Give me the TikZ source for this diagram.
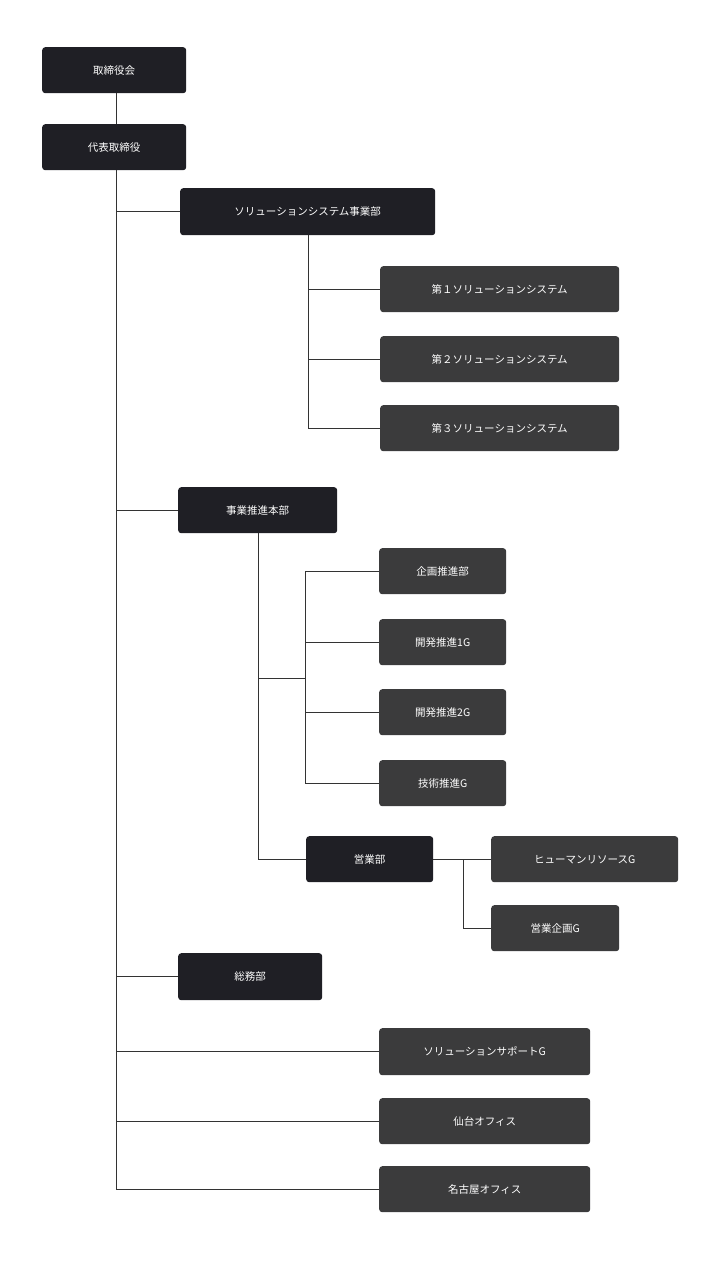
\documentclass[tikz,border=0pt]{standalone}
\usepackage{fontspec}
\setmainfont{Noto Sans CJK JP}
\begin{document}
\begin{tikzpicture}[x=1pt,y=-1pt,
 box/.style={draw=none,rounded corners=3pt,text=white,font=\fontsize{10.5}{12}\selectfont,inner sep=0pt,anchor=north west},
 dk/.style={box,fill=black!2!blue!3!black!88!white},
 lt/.style={box,fill=black!70!blue!8!white!25!black},
 ln/.style={draw=black!80,line width=0.8pt}]
\useasboundingbox (0,0) rectangle (720,1280);
\def\bx#1#2#3#4#5#6#7{\node[#1,minimum width=#4-#2,minimum height=#5-#3] (#6) at (#2,#3) {#7};}
\bx{dk}{42}{47}{186}{93}{a}{取締役会}
\bx{dk}{42}{124}{186}{170}{b}{代表取締役}
\bx{dk}{180}{188}{435}{235}{c}{ソリューションシステム事業部}
\bx{lt}{380}{266}{619}{312}{c1}{第１ソリューションシステム}
\bx{lt}{380}{336}{619}{382}{c2}{第２ソリューションシステム}
\bx{lt}{380}{405}{619}{451}{c3}{第３ソリューションシステム}
\bx{dk}{178}{487}{337}{533}{d}{事業推進本部}
\bx{lt}{379}{548}{506}{594}{d1}{企画推進部}
\bx{lt}{379}{619}{506}{665}{d2}{開発推進1G}
\bx{lt}{379}{689}{506}{735}{d3}{開発推進2G}
\bx{lt}{379}{760}{506}{806}{d4}{技術推進G}
\bx{dk}{306}{836}{433}{882}{e}{営業部}
\bx{lt}{491}{836}{678}{882}{e1}{ヒューマンリソースG}
\bx{lt}{491}{905}{619}{951}{e2}{営業企画G}
\bx{dk}{178}{953}{322}{1000}{f}{総務部}
\bx{lt}{379}{1028}{590}{1075}{g1}{ソリューションサポートG}
\bx{lt}{379}{1098}{590}{1144}{g2}{仙台オフィス}
\bx{lt}{379}{1166}{590}{1212}{g3}{名古屋オフィス}
\coordinate (t) at (116,1189);
\draw[ln] (a.south -| 116,0) -- (b.north -| 116,0);
\draw[ln] (b.south -| 116,0) -- (t) -- (g3.west |- t);
\foreach \n in {c,d,f,g1,g2} \draw[ln] (116,0 |- \n.west) -- (\n.west);
\coordinate (cs) at (308,235);
\draw[ln] (cs) -- (308,0 |- c3.west) -- (c3.west);
\foreach \n in {c1,c2} \draw[ln] (308,0 |- \n.west) -- (\n.west);
\coordinate (ds) at (258,533);
\draw[ln] (ds) -- (258,0 |- e.west) -- (e.west);
\coordinate (dm) at (258,678);
\draw[ln] (dm) -- (305,678);
\draw[ln] (305,0 |- d1.west) -- (305,0 |- d4.west);
\foreach \n in {d1,d2,d3,d4} \draw[ln] (305,0 |- \n.west) -- (\n.west);
\draw[ln] (e.east) -- (e1.west);
\draw[ln] (463,859) -- (463,0 |- e2.west) -- (e2.west);
\end{tikzpicture}
\end{document}
